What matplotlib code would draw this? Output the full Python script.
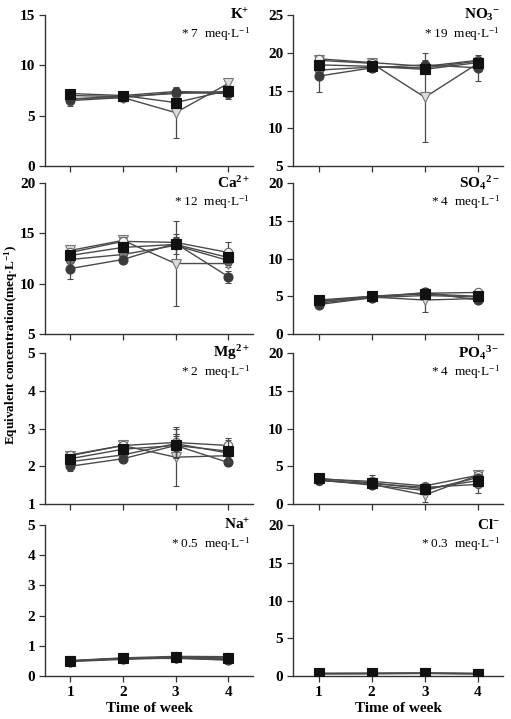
import numpy as np
import matplotlib
matplotlib.use("Agg")
import matplotlib.pyplot as plt

plt.rcParams['font.family'] = ['Liberation Serif', 'DejaVu Serif']
plt.rcParams['mathtext.fontset'] = 'custom'
plt.rcParams['mathtext.rm'] = 'Liberation Serif'
plt.rcParams['mathtext.bf'] = 'Liberation Serif:bold'
plt.rcParams['mathtext.it'] = 'Liberation Serif:italic'
plt.rcParams['mathtext.default'] = 'regular'

weeks = [1, 2, 3, 4]

# ---- data: series order S1 (black square), S2 (dark circle), S3 (grey circle),
#      S4 (open circle), S5 (light open down-triangle)
ions = ["K", "NO3", "Ca", "SO4", "Mg", "PO4", "Na", "Cl"]
ion_labels = [r"K$^{+}$", r"NO$_{3}$$^{-}$", r"Ca$^{2+}$", r"SO$_{4}$$^{2-}$",
              r"Mg$^{2+}$", r"PO$_{4}$$^{3-}$", r"Na$^{+}$", r"Cl$^{-}$"]
notes = [r"* 7  meq$\cdot$L$^{-1}$", r"* 19  meq$\cdot$L$^{-1}$",
         r"* 12  meq$\cdot$L$^{-1}$", r"* 4  meq$\cdot$L$^{-1}$",
         r"* 2  meq$\cdot$L$^{-1}$", r"* 4  meq$\cdot$L$^{-1}$",
         r"* 0.5  meq$\cdot$L$^{-1}$", r"* 0.3  meq$\cdot$L$^{-1}$"]
ylims = [(0, 15), (5, 25), (5, 20), (0, 20), (1, 5), (0, 20), (0, 5), (0, 20)]
ystep = [5, 5, 5, 5, 1, 5, 1, 5]

K_s1 = [7.2, 7.0, 6.3, 7.5];   K_s2 = [6.6, 7.0, 7.4, 7.3];   K_s3 = [7.0, 6.9, 7.2, 7.4]
K_s4 = [6.5, 6.8, 7.3, 7.2];   K_s5 = [6.7, 6.8, 5.3, 8.2]
K_e1 = [0.2, 0.2, 0.4, 0.4];   K_e2 = [0.3, 0.2, 0.3, 0.4];   K_e3 = [0.3, 0.2, 0.3, 0.5]
K_e4 = [0.5, 0.2, 0.3, 0.5];   K_e5 = [0.3, 0.2, 2.5, 0.3]

NO3_s1 = [18.4, 18.2, 17.8, 18.7]; NO3_s2 = [16.9, 18.0, 18.4, 18.0]; NO3_s3 = [17.7, 18.1, 18.0, 18.9]
NO3_s4 = [19.2, 18.7, 18.2, 19.0]; NO3_s5 = [19.0, 18.6, 14.1, 18.6]
NO3_e1 = [0.5, 0.4, 0.5, 0.5]; NO3_e2 = [2.1, 0.6, 0.6, 1.7]; NO3_e3 = [0.5, 0.5, 0.5, 0.5]
NO3_e4 = [0.3, 0.3, 0.4, 0.3]; NO3_e5 = [0.3, 0.3, 5.9, 0.3]

Ca_s1 = [12.8, 13.6, 13.9, 12.6]; Ca_s2 = [11.5, 12.4, 14.0, 10.7]; Ca_s3 = [12.4, 12.9, 13.8, 12.3]
Ca_s4 = [13.1, 14.2, 14.1, 13.1]; Ca_s5 = [13.3, 14.3, 12.0, 12.0]
Ca_e1 = [0.4, 0.5, 1.0, 0.5];     Ca_e2 = [1.0, 0.3, 0.5, 0.6];     Ca_e3 = [0.3, 0.3, 0.4, 0.4]
Ca_e4 = [0.3, 0.4, 0.5, 1.0];     Ca_e5 = [0.2, 0.3, 4.2, 0.3]

SO4_s1 = [4.5, 5.0, 5.3, 5.0]; SO4_s2 = [3.9, 4.8, 5.5, 4.5]; SO4_s3 = [4.1, 4.8, 5.1, 4.9]
SO4_s4 = [4.3, 5.0, 5.4, 5.5]; SO4_s5 = [4.3, 4.9, 4.5, 4.7]
SO4_e1 = [0.3, 0.2, 0.4, 0.3]; SO4_e2 = [0.3, 0.2, 0.4, 0.3]; SO4_e3 = [0.3, 0.2, 0.3, 0.3]
SO4_e4 = [0.3, 0.2, 0.4, 0.3]; SO4_e5 = [0.3, 0.2, 1.6, 0.3]

Mg_s1 = [2.2, 2.45, 2.55, 2.4];  Mg_s2 = [2.0, 2.2, 2.55, 2.1];   Mg_s3 = [2.12, 2.3, 2.6, 2.35]
Mg_s4 = [2.3, 2.55, 2.63, 2.55]; Mg_s5 = [2.28, 2.55, 2.24, 2.28]
Mg_e1 = [0.08, 0.08, 0.3, 0.3];  Mg_e2 = [0.12, 0.05, 0.3, 0.1];  Mg_e3 = [0.08, 0.08, 0.2, 0.15]
Mg_e4 = [0.06, 0.1, 0.4, 0.2];   Mg_e5 = [0.06, 0.08, 0.76, 0.1]

PO4_s1 = [3.4, 2.8, 2.0, 3.1]; PO4_s2 = [3.2, 2.5, 1.8, 3.5]; PO4_s3 = [3.1, 2.7, 2.2, 2.6]
PO4_s4 = [3.3, 3.0, 2.4, 3.8]; PO4_s5 = [3.2, 2.6, 1.2, 3.8]
PO4_e1 = [0.2, 0.3, 0.5, 0.6]; PO4_e2 = [0.2, 0.3, 0.4, 0.4]; PO4_e3 = [0.2, 0.3, 0.4, 1.2]
PO4_e4 = [0.2, 0.9, 0.4, 0.3]; PO4_e5 = [0.2, 0.3, 0.9, 0.3]

Na_s1 = [0.50, 0.58, 0.62, 0.60]; Na_s2 = [0.48, 0.55, 0.60, 0.52]; Na_s3 = [0.49, 0.57, 0.63, 0.56]
Na_s4 = [0.51, 0.60, 0.65, 0.64]; Na_s5 = [0.50, 0.59, 0.58, 0.55]
Na_e1 = [0.03, 0.04, 0.05, 0.05]; Na_e2 = [0.03, 0.04, 0.05, 0.05]; Na_e3 = [0.03, 0.04, 0.05, 0.05]
Na_e4 = [0.03, 0.04, 0.05, 0.05]; Na_e5 = [0.03, 0.04, 0.08, 0.05]

Cl_s1 = [0.35, 0.35, 0.38, 0.33]; Cl_s2 = [0.30, 0.32, 0.35, 0.30]; Cl_s3 = [0.32, 0.33, 0.36, 0.31]
Cl_s4 = [0.33, 0.34, 0.37, 0.32]; Cl_s5 = [0.31, 0.33, 0.34, 0.32]
Cl_e1 = [0.03, 0.03, 0.03, 0.03]; Cl_e2 = [0.03, 0.03, 0.03, 0.03]; Cl_e3 = [0.03, 0.03, 0.03, 0.03]
Cl_e4 = [0.03, 0.03, 0.03, 0.03]; Cl_e5 = [0.03, 0.03, 0.03, 0.03]

values = {
    "K": [K_s1, K_s2, K_s3, K_s4, K_s5], "NO3": [NO3_s1, NO3_s2, NO3_s3, NO3_s4, NO3_s5],
    "Ca": [Ca_s1, Ca_s2, Ca_s3, Ca_s4, Ca_s5], "SO4": [SO4_s1, SO4_s2, SO4_s3, SO4_s4, SO4_s5],
    "Mg": [Mg_s1, Mg_s2, Mg_s3, Mg_s4, Mg_s5], "PO4": [PO4_s1, PO4_s2, PO4_s3, PO4_s4, PO4_s5],
    "Na": [Na_s1, Na_s2, Na_s3, Na_s4, Na_s5], "Cl": [Cl_s1, Cl_s2, Cl_s3, Cl_s4, Cl_s5],
}
errors = {
    "K": [K_e1, K_e2, K_e3, K_e4, K_e5], "NO3": [NO3_e1, NO3_e2, NO3_e3, NO3_e4, NO3_e5],
    "Ca": [Ca_e1, Ca_e2, Ca_e3, Ca_e4, Ca_e5], "SO4": [SO4_e1, SO4_e2, SO4_e3, SO4_e4, SO4_e5],
    "Mg": [Mg_e1, Mg_e2, Mg_e3, Mg_e4, Mg_e5], "PO4": [PO4_e1, PO4_e2, PO4_e3, PO4_e4, PO4_e5],
    "Na": [Na_e1, Na_e2, Na_e3, Na_e4, Na_e5], "Cl": [Cl_e1, Cl_e2, Cl_e3, Cl_e4, Cl_e5],
}

styles = [
    dict(marker='s', mfc='#111111', mec='#111111', ms=6.5),
    dict(marker='o', mfc='#3a3a3a', mec='#3a3a3a', ms=6.5),
    dict(marker='o', mfc='#7a7a7a', mec='#555555', ms=6),
    dict(marker='o', mfc='#f4f4f4', mec='#666666', ms=6),
    dict(marker='v', mfc='#dcdcdc', mec='#777777', ms=6.5),
]
draw_order = [4, 3, 2, 1, 0]

W, H = 511, 719
fig = plt.figure(figsize=(W / 100, H / 100), dpi=100)

col_x = [45, 293]
col_w = [208, 210]
row_top = [15, 183, 353, 525]
row_h = 151

axes = []
for i, ion in enumerate(ions):
    r, c = divmod(i, 2)
    left = col_x[c] / W
    bottom = 1 - (row_top[r] + row_h) / H
    ax = fig.add_axes([left, bottom, col_w[c] / W, row_h / H])
    axes.append(ax)
    for k in draw_order:
        st = styles[k]
        ax.errorbar(weeks, values[ion][k], yerr=errors[ion][k], color='#4a4a4a',
                    lw=1.0, elinewidth=0.9, capsize=2.5, capthick=0.9,
                    marker=st['marker'], mfc=st['mfc'], mec=st['mec'],
                    ms=st['ms'], mew=0.8, zorder=3 + (4 - k))
    ax.set_xlim(0.52, 4.47)
    lo, hi = ylims[i]
    ax.set_ylim(lo, hi)
    ax.set_yticks(np.arange(lo, hi + 0.01, ystep[i]))
    ax.set_yticklabels([f"{v:g}" for v in np.arange(lo, hi + 0.01, ystep[i])],
                       fontsize=11, fontweight='bold')
    ax.set_xticks(weeks)
    if r == 3:
        ax.set_xticklabels([str(w) for w in weeks], fontsize=11, fontweight='bold')
        ax.set_xlabel("Time of week", fontsize=11, fontweight='bold', labelpad=2)
    else:
        ax.set_xticklabels([])
    for s in ['top', 'right']:
        ax.spines[s].set_visible(False)
    for s in ['left', 'bottom']:
        ax.spines[s].set_color('#333333')
        ax.spines[s].set_linewidth(1.0)
    ax.tick_params(axis='both', direction='out', length=4, width=0.9,
                   color='#333333', pad=3)
    ax.text(0.985, 1.0, ion_labels[i], transform=ax.transAxes, ha='right',
            va='center', fontsize=11, fontweight='bold')
    ax.text(0.985, 0.87, notes[i], transform=ax.transAxes, ha='right',
            va='center', fontsize=9.5)

fig.text(11 / W, 1 - 345 / H, r"Equivalent concentration(meq$\cdot$L$^{-1}$)",
         rotation=90, ha='center', va='center', fontsize=9.5, fontweight='bold')

fig.savefig("out.png", dpi=100)
